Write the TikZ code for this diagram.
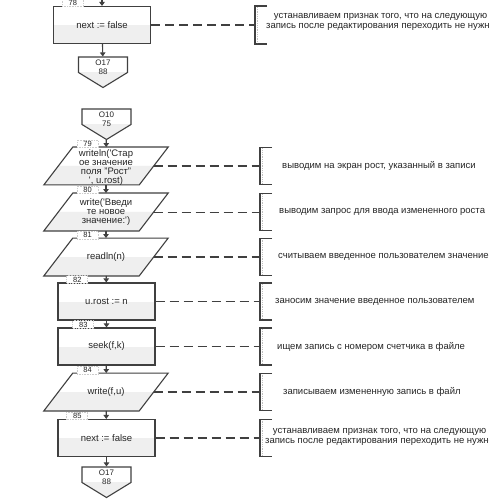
\documentclass[tikz,border=0pt]{standalone}
\usepackage{fontspec}
\setmainfont{Liberation Sans}
\usetikzlibrary{arrows.meta,shapes.symbols}
\definecolor{flowgray}{HTML}{404040}
\definecolor{halfgray}{HTML}{EFEFEF}
\newcommand{\squo}{\textquotesingle}

\tikzset{
  lowhalf/.style={path picture={\fill[halfgray] (path picture bounding box.west) rectangle (path picture bounding box.south east);}},
  procbox/.style={rectangle, draw=flowgray, line width=1.1pt, minimum width=97, minimum height=37, inner sep=0pt, lowhalf},
  iocore/.style={rectangle, minimum width=95, minimum height=37.5, inner sep=0pt},
  ioline/.style={draw=flowgray, line width=1.1pt, line join=miter},
  pagecon/.style={signal, signal to=south, signal pointer angle=117, draw=flowgray, line width=1.1pt,
    minimum width=49, minimum height=15.5, inner sep=0pt, lowhalf},
  blocktext/.style={font=\fontsize{9.5}{9}\selectfont, align=center, inner sep=0pt, text=black!85},
  context/.style={font=\fontsize{8}{9.5}\selectfont, align=center, inner sep=0pt, anchor=north, text=black!85},
  numtab/.style={fill=white, draw=black!20, densely dotted, line width=0.6pt, font=\fontsize{7.5}{7.5}\selectfont,
    minimum width=21, minimum height=7.5, inner sep=0pt, anchor=west, text=black!85},
  remark/.style={font=\fontsize{9.5}{10}\selectfont, align=center, inner sep=0pt, anchor=west, text=black!85},
  flow/.style={draw=flowgray, line width=1.1pt, -{Triangle[length=4pt,width=5.5pt]}},
  note/.style={draw=flowgray, line width=1.4pt, dash pattern=on 9pt off 5pt},
  notethin/.style={note, line width=0.8pt},
  hook/.style={draw=flowgray, line width=1.2pt}
}

\begin{document}
\begin{tikzpicture}[x=1pt, y=-1pt]

  \useasboundingbox (0,0) rectangle (488,502);
  \fill[white] (0,0) rectangle (488,502);
  \clip (0,0) rectangle (488,502);

  % -- the blocks, top to bottom ------------------------------------------
  \node[procbox] (b78) at (102,25) {};
  \node[pagecon] (c17a) at (103,64.75) {};
  \node[pagecon] (c10) at (106.5,116.75) {};
  \node[iocore] (b79) at (106,166) {};
  \node[iocore] (b80) at (106,212) {};
  \node[iocore] (b81) at (106,257) {};
  \node[procbox] (b82) at (106.5,301.5) {};
  \node[procbox] (b83) at (106.5,346.5) {};
  \node[iocore] (b84) at (106,392) {};
  \node[procbox] (b85) at (106.5,438) {};
  \node[pagecon] (c17b) at (106.5,474.75) {};

  % -- input/output blocks are slanted, lower half shaded -----------------
  \foreach \b in {b79,b80,b81,b84}{
    \fill[halfgray] (\b.west) -- (\b.east) -- ([xshift=-14.5pt]\b.south east) -- ([xshift=-14.5pt]\b.south west) -- cycle;
    \draw[ioline] ([xshift=14.5pt]\b.north west) -- ([xshift=14.5pt]\b.north east)
      -- ([xshift=-14.5pt]\b.south east) -- ([xshift=-14.5pt]\b.south west) -- cycle;}

  % -- block numbers sit on the top edge ----------------------------------
  \node[numtab] (n78) at ([xshift=9pt,yshift=3pt]b78.north west) {78};
  \node[numtab] (n79) at ([xshift=18.5pt,yshift=3pt]b79.north west) {79};
  \node[numtab] (n80) at ([xshift=18.5pt,yshift=3pt]b80.north west) {80};
  \node[numtab] (n81) at ([xshift=18.5pt,yshift=3pt]b81.north west) {81};
  \node[numtab] (n82) at ([xshift=9pt,yshift=3pt]b82.north west) {82};
  \node[numtab] (n83) at ([xshift=15pt,yshift=3pt]b83.north west) {83};
  \node[numtab] (n84) at ([xshift=18.5pt,yshift=3pt]b84.north west) {84};
  \node[numtab] (n85) at ([xshift=9pt,yshift=3pt]b85.north west) {85};

  % -- what each block does -----------------------------------------------
  \node[blocktext] (t78) at (b78) {next := false};
  \node[blocktext] (t79) at ([yshift=-1.5pt]b79) {writeln(\squo Стар\\ое значение\\поля "Рост"\\\squo, u.rost)};
  \node[blocktext] (t80) at (b80) {write(\squo Введи\\те новое\\значение:\squo)};
  \node[blocktext] (t81) at (b81) {readln(n)};
  \node[blocktext] (t82) at (b82) {u.rost := n};
  \node[blocktext] (t83) at (b83) {seek(f,k)};
  \node[blocktext] (t84) at (b84) {write(f,u)};
  \node[blocktext] (t85) at (b85) {next := false};
  \node[context] (tc17a) at ([yshift=-3pt]c17a.north) {O17\\88};
  \node[context] (tc10) at ([yshift=-3pt]c10.north) {O10\\75};
  \node[context] (tc17b) at ([yshift=-3pt]c17b.north) {O17\\88};

  % -- flow ----------------------------------------------------------------
  \coordinate (in78) at (102,-8);
  \draw[flow] (in78) -- (b78);
  \draw[flow] (b78) -- (c17a);
  \draw[flow] (c10) -- (b79);
  \draw[flow] (b79) -- (b80);
  \draw[flow] (b80) -- (b81);
  \draw[flow] (b81) -- (b82);
  \draw[flow] (b82) -- (b83);
  \draw[flow] (b83) -- (b84);
  \draw[flow] (b84) -- (b85);
  \draw[flow] (b85) -- (c17b);

  % -- comment brackets on the right --------------------------------------
  \foreach \n/\bx/\ta/\tb in {78/255/6/44, 79/260/147.5/184.5, 80/260/193.5/230.5, 81/260/238.5/275.5,
      82/260/283/320, 83/260/328/365, 84/260/373.5/410.5, 85/260/419.5/456.5}{
    \draw[hook] (\bx+12,\ta) -- (\bx,\ta) -- (\bx,\tb) -- (\bx+12,\tb);
    \draw[black!25, line width=0.8pt, densely dotted] (\bx+2.5,\ta+1) -- (\bx+2.5,\tb-1);
    \coordinate (k\n) at (\bx,{(\ta+\tb)/2});}

  \draw[note] (b78.east) -- (k78);
  \draw[note] (b79.east) -- (k79);
  \draw[notethin] (b80.east) -- (k80);
  \draw[note] (b81.east) -- (k81);
  \draw[note] (b82.east) -- (k82);
  \draw[notethin] (b83.east) -- (k83);
  \draw[note] (b84.east) -- (k84);
  \draw[note] (b85.east) -- (k85);

  \node[remark] (r78) at (266,22) {устанавливаем признак того, что на следующую\\запись после редактирования переходить не нужно};
  \node[remark] (r79) at (282,166) {выводим на экран рост, указанный в записи};
  \node[remark] (r80) at (279,212) {выводим запрос для ввода измененного роста};
  \node[remark] (r81) at (278,257) {считываем введенное пользователем значение};
  \node[remark] (r82) at (275,302) {заносим значение введенное пользователем};
  \node[remark] (r83) at (277,347) {ищем запись с номером счетчика в файле};
  \node[remark] (r84) at (283,392) {записываем измененную запись в файл};
  \node[remark] (r85) at (265,437) {устанавливаем признак того, что на следующую\\запись после редактирования переходить не нужно};

\end{tikzpicture}
\end{document}
